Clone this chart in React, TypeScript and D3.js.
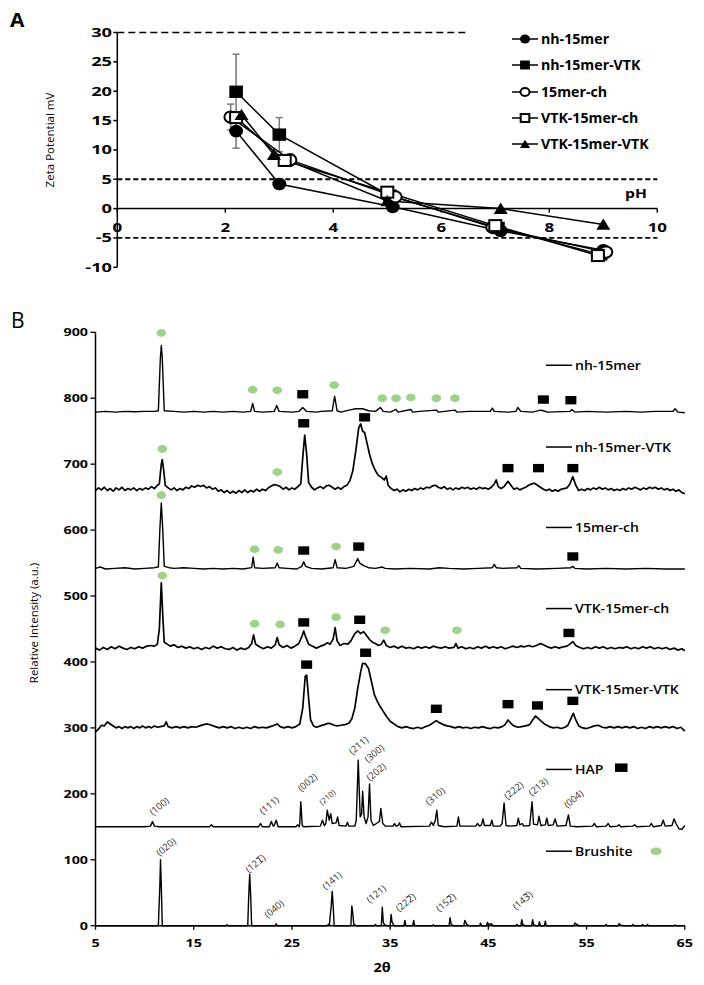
import React from 'react';
import * as d3 from 'd3';

// ---------- Panel A data (zeta potential vs pH) ----------
const phTicks = [0, 2, 4, 6, 8, 10];
const mvTicks = [-10, -5, 0, 5, 10, 15, 20, 25, 30];
const refLines = [30, 5, -5];

const seriesNamesA = ['nh-15mer', 'nh-15mer-VTK', '15mer-ch', 'VTK-15mer-ch', 'VTK-15mer-VTK'];
const markerTypesA = ['circle', 'square', 'ocircle', 'osquare', 'triangle'];

const phNh15mer = [2.2, 3.0, 5.1, 7.1, 9.0];
const mvNh15mer = [13.2, 4.2, 0.3, -3.8, -7.1];
const errNh15mer = [2.9, 0, 0, 0, 0];

const phNh15merVTK = [2.2, 3.0, 5.05, 7.05, 8.95];
const mvNh15merVTK = [19.9, 12.6, 2.2, -3.3, -7.8];
const errNh15merVTK = [6.4, 2.9, 0, 0, 0];

const ph15merCh = [2.1, 3.2, 5.15, 6.95, 9.05];
const mv15merCh = [15.6, 8.3, 2.0, -3.2, -7.4];
const err15merCh = [2.2, 1.0, 0.5, 0, 0];

const phVTK15merCh = [2.2, 3.1, 5.0, 7.0, 8.9];
const mvVTK15merCh = [15.5, 8.2, 2.8, -2.9, -8.0];
const errVTK15merCh = [0, 0, 0, 0, 0];

const phVTK15merVTK = [2.3, 2.9, 5.0, 7.1, 9.0];
const mvVTK15merVTK = [16.0, 9.2, 1.3, 0.0, -2.7];
const errVTK15merVTK = [0, 0, 0, 0, 0];

const phSets = [phNh15mer, phNh15merVTK, ph15merCh, phVTK15merCh, phVTK15merVTK];
const mvSets = [mvNh15mer, mvNh15merVTK, mv15merCh, mvVTK15merCh, mvVTK15merVTK];
const errSets = [errNh15mer, errNh15merVTK, err15merCh, errVTK15merCh, errVTK15merVTK];

// ---------- Panel B data (XRD) ----------
const twoThetaTicks = [5, 15, 25, 35, 45, 55, 65];
const intensityTicks = [0, 100, 200, 300, 400, 500, 600, 700, 800, 900];
const seriesNamesB = ['nh-15mer', 'nh-15mer-VTK', '15mer-ch', 'VTK-15mer-ch', 'VTK-15mer-VTK', 'HAP', 'Brushite'];
const legendIntensityB = [850, 726, 604, 481, 358, 237, 113];

const xrdNh15mer: number[][] = [[5,779],[6,780],[7,779],[8,780],[9,779.5],[10,780],[11,780],[11.4,781],[11.6,860],[11.7,880],[11.8,860],[12.0,781],[13,780],[14,779],[15,780],[16,779],[17,780],[18,779],[19,780],[20,779],[20.8,780],[21.0,792],[21.2,780],[22,779],[23.2,780],[23.45,789],[23.7,780],[25,779],[25.7,780],[26.1,786],[26.5,780],[27.5,779],[28,780],[29.1,781],[29.35,803],[29.6,781],[30,779],[30.8,782],[31.5,784],[32.2,784],[32.8,781],[33.5,780],[34.0,786],[34.3,780],[35,779],[35.6,783],[35.8,779],[37.1,783],[37.3,779],[38,780],[39.7,782],[39.9,779],[41.6,782],[41.8,779],[43,780],[45.2,780],[45.4,785],[45.6,780],[47,779],[47.8,780],[48.0,786],[48.3,780],[49.5,779],[50.3,782],[50.6,781],[51,779],[53.3,780],[53.5,783],[53.8,779],[55,780],[57,779],[59,780],[60.5,779],[62,780],[63.8,780],[64,784],[64.3,779],[65,778]];

const xrdNh15merVTK: number[][] = [[5,660],[5.3,664],[5.6,661],[5.9,665],[6.2,660],[6.5,663],[6.8,659],[7.1,664],[7.4,661],[7.7,665],[8,660],[8.3,663],[8.6,661],[8.9,664],[9.2,660],[9.5,663],[9.8,661],[10.1,664],[10.4,662],[10.7,666],[11.0,663],[11.3,668],[11.5,670],[11.7,700],[11.8,707],[11.95,690],[12.1,668],[12.4,664],[12.7,661],[13,664],[13.3,660],[13.6,663],[13.9,661],[14.2,665],[14.5,663],[14.8,667],[15.1,665],[15.4,668],[15.7,666],[16,668],[16.3,664],[16.6,666],[16.9,662],[17.2,664],[17.5,659],[17.8,661],[18.1,657],[18.4,660],[18.7,656],[19,659],[19.3,656],[19.6,660],[19.9,657],[20.2,661],[20.5,657],[20.8,660],[21.1,658],[21.4,662],[21.7,659],[22,662],[22.3,660],[22.6,664],[22.9,667],[23.2,669],[23.5,668],[23.8,666],[24.1,662],[24.4,665],[24.7,661],[25,664],[25.3,662],[25.6,666],[25.9,670],[26.1,710],[26.3,744],[26.5,715],[26.7,672],[27,665],[27.3,661],[27.6,664],[27.9,666],[28.2,663],[28.5,667],[28.8,668],[29.1,665],[29.4,662],[29.7,665],[30,662],[30.3,666],[30.6,668],[30.9,675],[31.2,690],[31.5,720],[31.8,755],[32,761],[32.2,750],[32.4,748],[32.6,735],[32.9,715],[33.2,700],[33.5,690],[33.8,683],[34.1,680],[34.4,676],[34.6,682],[34.8,668],[35.1,663],[35.4,660],[35.7,662],[36,658],[36.3,661],[36.6,659],[36.9,662],[37.2,660],[37.5,663],[37.8,661],[38.1,664],[38.4,662],[38.7,665],[39,664],[39.3,667],[39.6,668],[39.9,665],[40.2,663],[40.5,666],[40.8,662],[41.1,664],[41.4,661],[41.7,664],[42,662],[42.3,665],[42.6,663],[42.9,665],[43.2,662],[43.5,664],[43.8,662],[44.1,665],[44.4,663],[44.7,664],[45,662],[45.3,665],[45.6,670],[45.8,676],[46.0,666],[46.3,663],[46.6,666],[47.0,674],[47.3,668],[47.6,662],[47.9,664],[48.2,661],[48.5,663],[48.8,665],[49.1,668],[49.4,670],[49.7,671],[50.0,668],[50.3,665],[50.6,662],[50.9,660],[51.2,662],[51.5,659],[51.8,661],[52.1,659],[52.4,662],[52.7,663],[53.0,664],[53.3,670],[53.6,681],[53.9,668],[54.2,660],[54.5,662],[54.8,660],[55.1,663],[55.4,661],[55.7,664],[56,662],[56.3,665],[56.6,662],[56.9,664],[57.2,661],[57.5,663],[57.8,660],[58.1,662],[58.4,660],[58.7,663],[59,661],[59.3,664],[59.6,662],[59.9,665],[60.2,663],[60.5,661],[60.8,664],[61.1,662],[61.4,665],[61.7,663],[62,665],[62.3,662],[62.6,664],[62.9,661],[63.2,663],[63.5,660],[63.8,662],[64.1,659],[64.4,661],[64.7,657],[65,655]];

const xrd15merCh: number[][] = [[5,542],[5.5,544],[6,541],[7,542],[8,543],[9,541],[10,542],[11,543],[11.4,544],[11.55,600],[11.7,641],[11.85,600],[12.0,545],[12.5,543],[13,542],[14,543],[15,542],[16,541],[17,542],[18,541],[19,542],[20,541],[20.9,543],[21.05,559],[21.2,543],[22,542],[23.3,543],[23.5,550],[23.7,543],[24.5,542],[25.5,541],[26.0,545],[26.2,552],[26.4,545],[27,542],[28,541],[29.2,543],[29.4,555],[29.6,543],[30.5,542],[31.3,545],[31.7,557],[31.9,550],[32.3,546],[32.8,543],[33.5,542],[34.2,544],[34.5,542],[35.5,541],[37,542],[39,541],[40,543],[41,542],[42.5,541],[44,542],[45.4,543],[45.6,548],[45.8,543],[46.5,542],[47.9,543],[48.1,546],[48.3,542],[50,541],[52,542],[53.4,543],[53.6,545],[53.8,542],[55,541],[57,542],[59,541],[61,542],[63,541],[65,541]];

const xrdVTK15merCh: number[][] = [[5,421],[5.4,418],[5.8,422],[6.2,419],[6.6,423],[7,420],[7.4,424],[7.8,421],[8.2,419],[8.6,422],[9,420],[9.4,423],[9.8,421],[10.2,424],[10.6,425],[11,424],[11.3,427],[11.5,450],[11.7,520],[11.85,470],[12.0,430],[12.3,427],[12.6,424],[13,426],[13.4,422],[13.8,424],[14.2,421],[14.6,423],[15,420],[15.4,422],[15.8,419],[16.2,422],[16.6,420],[17,424],[17.4,421],[17.8,423],[18.2,420],[18.6,419],[19,422],[19.4,418],[19.8,421],[20.2,419],[20.6,422],[20.9,428],[21.1,441],[21.3,427],[21.7,423],[22.1,420],[22.5,423],[22.9,421],[23.3,426],[23.5,437],[23.7,426],[24.1,422],[24.5,425],[24.9,421],[25.3,424],[25.7,428],[26.0,438],[26.2,447],[26.4,438],[26.7,427],[27.1,424],[27.5,421],[27.9,424],[28.3,426],[28.6,429],[28.9,427],[29.2,435],[29.4,452],[29.6,432],[29.9,425],[30.3,428],[30.7,427],[31.0,432],[31.4,443],[31.7,447],[32.0,443],[32.3,446],[32.6,440],[32.9,434],[33.2,430],[33.5,428],[33.8,425],[34.1,427],[34.35,433],[34.6,425],[35,422],[35.4,424],[35.8,421],[36.2,424],[36.6,421],[37,422],[37.4,420],[37.8,423],[38.2,421],[38.6,423],[39,421],[39.4,424],[39.8,422],[40.2,421],[40.6,423],[41,421],[41.5,422],[41.7,428],[41.9,421],[42.3,423],[42.7,420],[43.1,422],[43.5,420],[43.9,423],[44.3,421],[44.7,424],[45.1,421],[45.5,423],[45.9,421],[46.3,423],[46.7,420],[47.1,422],[47.5,424],[47.9,422],[48.3,424],[48.7,423],[49.1,425],[49.5,423],[49.9,425],[50.3,428],[50.6,426],[51,423],[51.4,421],[51.8,423],[52.2,421],[52.6,423],[53,424],[53.3,427],[53.6,431],[53.9,425],[54.3,422],[54.7,420],[55.1,422],[55.5,420],[55.9,423],[56.3,421],[56.7,423],[57.1,420],[57.5,422],[57.9,420],[58.3,422],[58.7,421],[59.1,423],[59.5,420],[59.9,422],[60.3,420],[60.7,423],[61.1,421],[61.5,423],[61.9,420],[62.3,422],[62.7,420],[63.1,422],[63.5,419],[63.9,421],[64.3,418],[64.7,420],[65,417]];

const xrdVTK15merVTK: number[][] = [[5,294],[5.3,298],[5.6,304],[5.9,303],[6.2,309],[6.5,306],[6.8,303],[7.1,300],[7.4,302],[7.7,299],[8,302],[8.3,300],[8.6,302],[8.9,299],[9.2,302],[9.5,300],[9.8,303],[10.1,300],[10.4,302],[10.7,300],[11,303],[11.3,301],[11.6,302],[12,303],[12.2,309],[12.4,302],[12.8,300],[13.2,302],[13.6,300],[14,302],[14.4,300],[14.8,302],[15.2,301],[15.6,303],[16,305],[16.4,306],[16.8,304],[17.2,302],[17.6,300],[18,302],[18.4,300],[18.8,302],[19.2,299],[19.6,301],[20,299],[20.4,301],[20.8,299],[21.2,302],[21.6,300],[22,301],[22.4,300],[22.8,302],[23.2,304],[23.5,306],[23.8,302],[24.2,300],[24.6,302],[25,300],[25.4,302],[25.8,306],[26.1,330],[26.35,378],[26.5,380],[26.7,345],[26.9,312],[27.2,303],[27.5,301],[27.9,303],[28.3,305],[28.7,307],[29.0,306],[29.3,304],[29.6,303],[30,304],[30.4,305],[30.8,307],[31.1,314],[31.4,330],[31.7,360],[32.0,385],[32.2,398],[32.5,397],[32.8,390],[33.1,370],[33.4,350],[33.7,340],[34,332],[34.3,325],[34.6,318],[35,310],[35.4,306],[35.8,302],[36.2,300],[36.6,302],[37,300],[37.4,299],[37.8,301],[38.2,299],[38.6,302],[39,304],[39.4,308],[39.7,311],[40,308],[40.4,305],[40.8,303],[41.2,302],[41.6,300],[42,302],[42.4,300],[42.8,301],[43.2,299],[43.6,301],[44,300],[44.4,302],[44.8,300],[45.2,299],[45.6,301],[46,300],[46.4,302],[46.7,305],[47.0,312],[47.3,307],[47.6,303],[48,301],[48.4,302],[48.8,303],[49.2,305],[49.5,312],[49.8,318],[50.1,314],[50.4,310],[50.8,305],[51.2,302],[51.6,300],[52,301],[52.4,299],[52.8,301],[53.1,304],[53.4,314],[53.65,322],[53.9,312],[54.2,303],[54.6,300],[55,299],[55.4,301],[55.8,303],[56.2,304],[56.6,301],[57,300],[57.4,302],[57.8,300],[58.2,302],[58.6,300],[59,302],[59.4,300],[59.8,302],[60.2,299],[60.6,301],[61,299],[61.4,302],[61.8,300],[62.2,302],[62.6,300],[63,302],[63.4,300],[63.8,302],[64.2,299],[64.6,301],[65,295]];

const xrdHAP: number[][] = [[5,150],[10,150],[10.6,151],[10.8,158],[11.0,151],[11.5,150],[16.6,150],[16.8,153],[17.0,150],[21.6,150],[21.8,155],[22.0,150],[22.7,150],[22.9,158],[23.1,151],[23.2,152],[23.4,160],[23.6,150],[25.4,150],[25.6,153],[25.75,150],[25.8,155],[25.9,188],[26.05,152],[26.2,150],[27.9,151],[28.1,160],[28.3,152],[28.45,155],[28.6,175],[28.8,160],[28.95,170],[29.1,155],[29.5,156],[29.65,165],[29.8,152],[30.5,151],[30.65,157],[30.8,151],[31.4,151],[31.55,160],[31.75,251],[31.95,165],[32.1,170],[32.2,204],[32.35,165],[32.55,155],[32.75,165],[32.9,215],[33.05,160],[33.3,152],[33.9,158],[34.05,178],[34.25,155],[34.5,151],[35.3,151],[35.45,155],[35.6,151],[35.8,152],[35.95,156],[36.1,150],[39.0,151],[39.2,157],[39.4,152],[39.6,160],[39.75,175],[39.9,152],[40.5,150],[41.8,151],[41.95,165],[42.1,151],[43.7,151],[43.9,155],[44.1,151],[44.3,153],[44.45,162],[44.6,152],[45.2,152],[45.35,160],[45.5,151],[46.2,151],[46.4,155],[46.6,186],[46.8,152],[47.2,151],[47.9,152],[48.05,163],[48.2,153],[48.45,155],[48.6,151],[49.2,152],[49.45,188],[49.6,154],[50.0,153],[50.15,166],[50.35,152],[50.8,153],[50.95,163],[51.1,152],[51.6,153],[51.8,162],[52.0,151],[52.9,152],[53.15,168],[53.35,151],[54,150],[55.6,151],[55.8,155],[56,150],[57,151],[57.2,155],[57.4,150],[58.1,151],[58.3,153],[58.5,150],[59.7,151],[59.9,153],[60.1,150],[61.4,151],[61.6,155],[61.8,150],[62.6,152],[62.8,160],[63.0,151],[63.7,152],[63.9,162],[64.1,155],[64.4,147],[64.7,146],[65,152]];

const xrdBrushite: number[][] = [[5,0],[11.4,0],[11.55,60],[11.62,100],[11.7,60],[11.8,0],[18.3,0],[18.4,1.5],[18.5,0],[20.5,0],[20.6,45],[20.7,78],[20.8,45],[20.9,0],[23.3,0],[23.4,3],[23.5,0],[28.6,0],[28.7,2],[28.8,0],[29.0,30],[29.1,52],[29.2,30],[29.3,0],[31.0,0],[31.1,30],[31.2,18],[31.3,2],[31.5,0],[33.4,0],[33.5,2],[33.6,0],[34.1,0],[34.2,28],[34.3,5],[34.4,2],[34.6,0],[35.0,0],[35.1,17],[35.2,5],[35.4,0],[36.4,0],[36.5,8],[36.6,0],[37.3,0],[37.4,8],[37.5,0],[39.3,0],[39.4,1.5],[39.5,0],[41.0,0],[41.1,12],[41.2,3],[41.4,0],[42.5,0],[42.6,8],[42.8,2],[43.0,0],[44.1,0],[44.2,4],[44.3,0],[44.8,0],[44.9,5],[45.0,2],[45.3,3],[45.5,0],[47.8,0],[47.9,2],[48.0,0],[48.3,0],[48.4,9],[48.5,2],[48.7,0],[49.4,0],[49.5,9],[49.6,2],[49.8,0],[50.1,0],[50.2,6],[50.3,0],[50.7,0],[50.8,7],[50.9,0],[53.7,0],[53.8,4],[54.0,2],[54.2,0],[56.9,0],[57.0,2],[57.1,0],[58.2,0],[58.3,3],[58.5,1],[58.7,0],[59.6,0],[59.7,2],[59.8,0],[60.6,0],[60.7,2],[60.8,0],[61.1,0],[61.2,2],[61.3,0],[63.9,0],[64.0,1],[64.1,0],[65,0]];

const xrdSets = [xrdNh15mer, xrdNh15merVTK, xrd15merCh, xrdVTK15merCh, xrdVTK15merVTK, xrdHAP, xrdBrushite];

// phase markers: [2θ, intensity, kind] kind 'b' = brushite (green), 'h' = HAP (square)
const phaseMarks: [number, number, string][] = [
  [11.7,899,'b'],[21.0,813,'b'],[23.5,812,'b'],[26.1,806,'h'],[29.3,820,'b'],[34.2,800,'b'],[35.6,800,'b'],[37.1,801,'b'],[39.7,800,'b'],[41.6,800,'b'],[50.6,798,'h'],[53.4,797,'h'],
  [11.8,723,'b'],[23.5,688,'b'],[26.2,762,'h'],[32.4,771,'h'],[47.0,694,'h'],[50.1,694,'h'],[53.6,694,'h'],
  [11.7,653,'b'],[21.2,571,'b'],[23.6,570,'b'],[26.2,569,'h'],[29.5,575,'b'],[31.8,575,'h'],[53.6,560,'h'],
  [11.8,531,'b'],[21.2,458,'b'],[23.8,457,'b'],[26.2,460,'h'],[29.5,468,'b'],[31.9,464,'h'],[34.5,448,'b'],[41.8,448,'b'],[53.2,444,'h'],
  [26.5,396,'h'],[32.5,414,'h'],[39.7,329,'h'],[47.0,336,'h'],[50.0,334,'h'],[53.6,341,'h'],
];

const hapLabels = ['(100)', '(111)', '(002)', '(210)', '(211)', '(300)', '(202)', '(310)', '(222)', '(213)', '(004)'];
const hapLabelPos = [11.7, 22.9, 26.8, 28.8, 32.0, 33.6, 33.8, 39.8, 47.8, 50.3, 53.9];
const hapLabelInt = [182, 183, 218, 196, 274, 262, 234, 197, 206, 211, 193];
const brLabels = ['(020)', '(121\u0305)', '(040)', '(141)', '(121)', '(222\u0305)', '(152\u0305)', '(143\u0305)'];
const brLabelPos = [12.4, 21.5, 23.4, 29.3, 33.8, 36.8, 40.9, 48.7];
const brLabelInt = [120, 95, 26, 69, 49, 36, 36, 39];

const FONT = "'Open Sans', 'DejaVu Sans', sans-serif";
const GREEN = '#9fd18a';

function T(props: any) {
  const { x, y, sx = 1, anchor = 'start', size = 12, weight = 'normal', fill = '#000', rotate = 0, children } = props;
  return (
    <text transform={`translate(${x},${y}) rotate(${rotate}) scale(${sx},1)`} textAnchor={anchor}
      fontSize={size} fontWeight={weight} fill={fill} fontFamily={FONT}>{children}</text>
  );
}

function Marker({ type, cx, cy, s = 1 }: any) {
  const sw = 2;
  if (type === 'circle') return <ellipse cx={cx} cy={cy} rx={7 * s} ry={6.3 * s} fill="#000" />;
  if (type === 'ocircle') return <ellipse cx={cx} cy={cy} rx={6.3 * s} ry={5.6 * s} fill="#fff" stroke="#000" strokeWidth={sw} />;
  if (type === 'square') return <rect x={cx - 6.8 * s} y={cy - 6.2 * s} width={13.6 * s} height={12.4 * s} fill="#000" />;
  if (type === 'osquare') return <rect x={cx - 6 * s} y={cy - 5.5 * s} width={12 * s} height={11 * s} fill="#fff" stroke="#000" strokeWidth={sw} />;
  const w = 7 * s, h = 6 * s;
  return <path d={`M${cx},${cy - h}L${cx + w},${cy + h * 0.9}L${cx - w},${cy + h * 0.9}Z`} fill="#000" />;
}

export default function App() {
  const xA = d3.scaleLinear().domain([0, 10]).range([117.3, 657.3]);
  const yA = d3.scaleLinear().domain([-10, 30]).range([267.3, 32.5]);
  const xB = d3.scaleLinear().domain([5, 65]).range([95.5, 684.8]);
  const yB = d3.scaleLinear().domain([0, 900]).range([925.7, 332.3]);

  const lineA = d3.line<number[]>().x(d => xA(d[0])).y(d => yA(d[1]));
  const lineB = d3.line<number[]>().x(d => xB(d[0])).y(d => yB(d[1]));

  const legendRowsA = [39, 65, 92, 118, 144];

  return (
    <svg width={704} height={985} style={{ position: 'absolute', left: 0, top: 0, background: '#fff' }}>
      <rect width={704} height={985} fill="#fff" />
      {/* ================= Panel A ================= */}
      <T x={10} y={27} size={19} weight="bold" sx={1.1}>A</T>
      {refLines.map((v, i) => (
        <line key={'rl' + i} x1={xA(0)} x2={v === 30 ? 468 : xA(10)} y1={yA(v)} y2={yA(v)}
          stroke="#000" strokeWidth={v === 30 ? 1.5 : 1.8} strokeDasharray={v === 30 ? '7,4' : '5,3'} />
      ))}
      <line x1={xA(0)} x2={xA(0)} y1={yA(-10)} y2={yA(30)} stroke="#000" strokeWidth={1.5} />
      <line x1={xA(0)} x2={xA(10)} y1={yA(0)} y2={yA(0)} stroke="#000" strokeWidth={1.5} />
      {mvTicks.map(t => (
        <g key={'my' + t}>
          <line x1={xA(0) - 4} x2={xA(0)} y1={yA(t)} y2={yA(t)} stroke="#000" strokeWidth={1.5} />
          <T x={112} y={yA(t) + 4.5} anchor="end" size={13} weight="bold" sx={1.4}>{t}</T>
        </g>
      ))}
      {phTicks.map(t => (
        <g key={'px' + t}>
          <line x1={xA(t)} x2={xA(t)} y1={yA(0)} y2={yA(0) + 4} stroke="#000" strokeWidth={1.5} />
          <T x={xA(t)} y={231.5} anchor="middle" size={13} weight="bold" sx={1.3}>{t}</T>
        </g>
      ))}
      <T x={636} y={197.5} anchor="middle" size={13} weight="bold" sx={1.2}>pH</T>
      <T x={54} y={140} anchor="middle" size={11.5} rotate={-90}>Zeta Potential mV</T>
      {phSets.map((ph, si) => ph.map((p, i) => errSets[si][i] > 0 ? (
        <g key={'eb' + si + '-' + i} stroke="#777" strokeWidth={1.5}>
          <line x1={xA(p)} x2={xA(p)} y1={yA(mvSets[si][i] - errSets[si][i])} y2={yA(mvSets[si][i] + errSets[si][i])} />
          <line x1={xA(p) - 3.5} x2={xA(p) + 3.5} y1={yA(mvSets[si][i] + errSets[si][i])} y2={yA(mvSets[si][i] + errSets[si][i])} />
          <line x1={xA(p) - 3.5} x2={xA(p) + 3.5} y1={yA(mvSets[si][i] - errSets[si][i])} y2={yA(mvSets[si][i] - errSets[si][i])} />
        </g>
      ) : null))}
      {phSets.map((ph, si) => (
        <path key={'la' + si} d={lineA(ph.map((p, i) => [p, mvSets[si][i]])) || ''} fill="none" stroke="#000" strokeWidth={1.5} />
      ))}
      {phSets.map((ph, si) => ph.map((p, i) => (
        <Marker key={'ma' + si + '-' + i} type={markerTypesA[si]} cx={xA(p)} cy={yA(mvSets[si][i])} />
      )))}
      {seriesNamesA.map((n, i) => (
        <g key={'lga' + i}>
          <line x1={512} x2={538} y1={legendRowsA[i]} y2={legendRowsA[i]} stroke="#000" strokeWidth={1.5} />
          <Marker type={markerTypesA[i]} cx={525} cy={legendRowsA[i]} s={0.72} />
          <T x={541} y={legendRowsA[i] + 4.8} size={13.5} weight="bold" sx={1.05}>{n}</T>
        </g>
      ))}

      {/* ================= Panel B ================= */}
      <T x={11} y={328} size={21}>B</T>
      <line x1={xB(5)} x2={xB(5)} y1={yB(0)} y2={yB(900)} stroke="#000" strokeWidth={1.5} />
      <line x1={xB(5)} x2={xB(65)} y1={yB(0)} y2={yB(0)} stroke="#000" strokeWidth={1.5} />
      {intensityTicks.map(t => (
        <g key={'iy' + t}>
          <line x1={xB(5) - 5} x2={xB(5)} y1={yB(t)} y2={yB(t)} stroke="#000" strokeWidth={1.3} />
          <T x={88} y={yB(t) + 4} anchor="end" size={11} weight="bold" sx={1.3}>{t}</T>
        </g>
      ))}
      {twoThetaTicks.map(t => (
        <g key={'tx' + t}>
          <line x1={xB(t)} x2={xB(t)} y1={yB(0)} y2={yB(0) + 4} stroke="#000" strokeWidth={1.3} />
          <T x={xB(t)} y={947} anchor="middle" size={11} weight="bold" sx={1.3}>{t}</T>
        </g>
      ))}
      <T x={382} y={972} anchor="middle" size={12} weight="bold" sx={1.2}>2θ</T>
      <T x={38} y={623} anchor="middle" size={11.5} rotate={-90}>Relative Intensity (a.u.)</T>
      {xrdSets.map((s, i) => (
        <path key={'sp' + i} d={lineB(s) || ''} fill="none" stroke="#000" strokeWidth={i === 1 || i === 3 || i === 4 ? 1.7 : 1.4} strokeLinejoin="round" />
      ))}
      {phaseMarks.map((m, i) => m[2] === 'b'
        ? <ellipse key={'pm' + i} cx={xB(m[0])} cy={yB(m[1])} rx={4.8} ry={3.9} fill={GREEN} />
        : <rect key={'pm' + i} x={xB(m[0]) - 5.5} y={yB(m[1]) - 4.2} width={11} height={8.4} fill="#000" />
      )}
      {hapLabels.map((l, i) => (
        <T key={'hl' + i} x={xB(hapLabelPos[i])} y={yB(hapLabelInt[i]) + 3} anchor="middle" size={l === '(210)' ? 8 : 9.5} fill="#333" rotate={-40}>{l}</T>
      ))}
      {brLabels.map((l, i) => (
        <T key={'bl' + i} x={xB(brLabelPos[i])} y={yB(brLabelInt[i]) + 3} anchor="middle" size={9.5} fill="#333" rotate={-40}>{l}</T>
      ))}
      {seriesNamesB.map((n, i) => (
        <g key={'lgb' + i}>
          <line x1={546} x2={572} y1={yB(legendIntensityB[i])} y2={yB(legendIntensityB[i])} stroke="#000" strokeWidth={1.5} />
          <T x={575} y={yB(legendIntensityB[i]) + 4.5} size={13} weight={600} sx={1.08}>{n}</T>
        </g>
      ))}
      <rect x={615} y={yB(legendIntensityB[5]) - 6} width={12.5} height={8.5} fill="#000" />
      <ellipse cx={656} cy={yB(legendIntensityB[6])} rx={5.5} ry={3.8} fill={GREEN} />
    </svg>
  );
}
